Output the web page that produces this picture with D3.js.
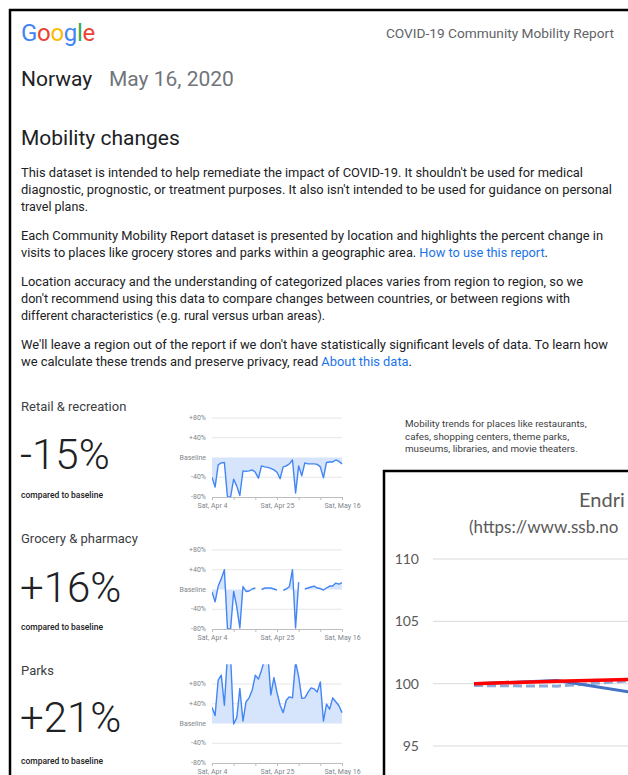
<!DOCTYPE html>
<html>
<head>
<meta charset="utf-8">
<script src="https://cdn.jsdelivr.net/npm/d3@7"></script>
<style>
html, body { margin:0; padding:0; background:#fff; overflow:hidden; }
svg text { font-family: Roboto, "Noto Sans", sans-serif; }
</style>
</head>
<body>
<svg id="page" width="628" height="775"></svg>
<script>
////////////////////////////////////////////////////////////////////////
//
// Data
//
////////////////////////////////////////////////////////////////////////
var startDay = new Date(2020, 3, 4);
var endDay = new Date(2020, 4, 16);
var dateTickLabels = [new Date(2020, 3, 4), new Date(2020, 3, 25), new Date(2020, 4, 16)];

var categories = ["Retail & recreation", "Grocery & pharmacy", "Parks"];
var headlineValues = ["-15%", "+16%", "+21%"];

var retailValues = [-40, -60, -15, -11, -10, -80, -80, -44, -58, -77, -27, -28, -27, -25, -30, -42,
  -17, -19, -20, -22, -25, -30, -43, -19, -17, -13, -5, -72, -17, -37, -11, -13, -13, -13, -14, -19,
  -41, -10, -9, -9, -5, -8, -13];
var groceryValues = [-5, -25, 7, 22, 40, -80, -80, -4, -35, -78, 6, -4, -3, 1, 3, null, 0, 3, 3, 3,
  1, -1, null, -2, 1, 6, 40, -78, 15, null, 1, 3, 5, 7, 3, 2, -1, 3, 7, 7, 13, 11, 14];
var parksValues = [33, 16, 88, 98, 37, 140, 135, -1, 12, 71, 5, 44, 52, 68, 98, 90, 108, 130, 145,
  58, 93, 63, 37, 22, 47, 54, 52, 125, 95, 51, 52, 63, 72, 70, 64, 84, 5, 39, 29, 52, 44, 36, 22];

var yTickValues = [80, 40, 0, -40, -80];
var yTickLabels = ["+80%", "+40%", "Baseline", "-40%", "-80%"];

// ssb chart pasted over the report
var ssbPeriods = ["mars", "april", "mai"];
var ssbRed = [100, 100.2, 100.35];
var ssbBlue = [100, 100.25, 99.2];
var ssbBlueDashed = [99.85, 99.8, 100.3];
var ssbTicks = [95, 100, 105, 110];

var paragraphs = [
  [["This dataset is intended to help remediate the impact of COVID-19. It shouldn't be used for medical"], 583],
  [["diagnostic, prognostic, or treatment purposes. It also isn't intended to be used for guidance on personal"], 612],
  [["travel plans."], 0],
  null,
  [["Each Community Mobility Report dataset is presented by location and highlights the percent change in"], 603],
  [["visits to places like grocery stores and parks within a geographic area. ", "How to use this report", "."], 548],
  null,
  [["Location accuracy and the understanding of categorized places varies from region to region, so we"], 583],
  [["don't recommend using this data to compare changes between countries, or between regions with"], 570],
  [["different characteristics (e.g. rural versus urban areas)."], 0],
  null,
  [["We'll leave a region out of the report if we don't have statistically significant levels of data. To learn how"], 608],
  [["we calculate these trends and preserve privacy, read ", "About this data", "."], 412]
];


////////////////////////////////////////////////////////////////////////
//
// Header, frame and text part of the report
//
////////////////////////////////////////////////////////////////////////
function drawHeader(svg)
  {
  var textColor = "#202124";
  var greyText = "#5f6368";

  //black frame round the screenshot
  svg.append("line").attr("x1", 10).attr("x2", 10).attr("y1", 9).attr("y2", 775)
    .attr("stroke", "#000").attr("stroke-width", 2.5);
  svg.append("line").attr("x1", 9).attr("x2", 628).attr("y1", 10).attr("y2", 10)
    .attr("stroke", "#000").attr("stroke-width", 2.5);

  //google logo
  var logoColors = ["#4285f4", "#ea4335", "#fbbc05", "#4285f4", "#34a853", "#ea4335"];
  var logo = svg.append("text").attr("x", 21).attr("y", 41)
    .style("font-size", "24px").style("letter-spacing", "-0.3px");
  logo.selectAll("tspan").data("Google".split("")).enter().append("tspan")
    .attr("fill", (d, i) => logoColors[i]).text(d => d);

  svg.append("text").attr("x", 614).attr("y", 38).attr("text-anchor", "end")
    .attr("fill", greyText).style("font-size", "13.7px").text("COVID-19 Community Mobility Report");

  svg.append("text").attr("x", 21).attr("y", 86).attr("fill", textColor)
    .style("font-size", "21px").text("Norway");
  svg.append("text").attr("x", 109).attr("y", 86).attr("fill", "#70757a")
    .style("font-size", "21px").text("May 16, 2020");

  svg.append("text").attr("x", 21).attr("y", 145).attr("fill", textColor)
    .style("font-size", "21px").text("Mobility changes");

  //paragraphs, one svg text per line
  var y = 177;
  paragraphs.forEach(line =>
    {
    if(line === null)
      {
      y += 12;
      return;
      }
    var t = svg.append("text").attr("x", 21).attr("y", y).attr("fill", textColor)
      .style("font-size", "12.5px");
    if(line[1] > 0)
      {
      t.attr("textLength", line[1] - 21).attr("lengthAdjust", "spacingAndGlyphs");
      }
    line[0].forEach((part, i) =>
      {
      t.append("tspan").attr("fill", i === 1 ? "#1a73e8" : textColor).text(part);
      });
    y += 17;
    });

  //description beside the first small chart
  var desc = ["Mobility trends for places like restaurants,", "cafes, shopping centers, theme parks,",
              "museums, libraries, and movie theaters."];
  desc.forEach((d, i) =>
    {
    svg.append("text").attr("x", 405).attr("y", 427 + i * 12.5).attr("fill", "#3c4043")
      .style("font-size", "9.8px").text(d);
    });

  return;
  }


////////////////////////////////////////////////////////////////////////
//
// One category: name, big number and the small trend chart
//
////////////////////////////////////////////////////////////////////////
function drawCategory(svg, index, values, bottom)
  {
  var nameY = [411, 543, 675];
  var numberY = [469, 602, 732];
  var compY = [498, 630, 764];

  svg.append("text").attr("x", 21).attr("y", nameY[index]).attr("fill", "#3c4043")
    .style("font-size", "13px").text(categories[index]);
  svg.append("text").attr("x", 20).attr("y", numberY[index]).attr("fill", "#202124")
    .style("font-size", "42px").style("font-weight", 300).text(headlineValues[index]);
  svg.append("text").attr("x", 21).attr("y", compY[index]).attr("fill", "#202124")
    .style("font-size", "8.5px").style("font-weight", 500).text("compared to baseline");

  var x = d3.scaleTime().domain([startDay, endDay]).range([212, 342]);
  var y = d3.scaleLinear().domain([-80, 80]).range([bottom, bottom - 79]);
  var days = d3.timeDay.range(startDay, d3.timeDay.offset(endDay, 1));
  var points = days.map((d, i) => ({date: d, value: values[i]}));

  var g = svg.append("g");

  //grid lines
  g.selectAll(".grid").data([80, 40, -40]).enter().append("line")
    .attr("x1", 212).attr("x2", 342)
    .attr("y1", d => y(d)).attr("y2", d => y(d))
    .attr("stroke", "#e6e6e6").attr("stroke-width", 1.2);

  //y labels
  g.selectAll(".ylab").data(yTickValues).enter().append("text")
    .attr("x", 206).attr("y", d => y(d) + 2.2).attr("text-anchor", "end")
    .attr("fill", "#80868b").style("font-size", "7px")
    .text((d, i) => yTickLabels[i]);

  //clip, parks goes off the top
  var clipId = "clip" + index;
  svg.append("clipPath").attr("id", clipId).append("rect")
    .attr("x", 212).attr("width", 131).attr("y", y(120)).attr("height", y(-80) - y(120));

  var area = d3.area()
    .defined(d => d.value !== null)
    .x(d => x(d.date)).y0(y(0)).y1(d => y(d.value));
  var line = d3.line()
    .defined(d => d.value !== null)
    .x(d => x(d.date)).y(d => y(d.value));

  g.append("path").datum(points).attr("d", area).attr("fill", "#d6e4fc")
    .attr("clip-path", "url(#" + clipId + ")");
  g.append("path").datum(points).attr("d", line).attr("fill", "none")
    .attr("stroke", "#4285f4").attr("stroke-width", 1.4).attr("stroke-linejoin", "round")
    .attr("clip-path", "url(#" + clipId + ")");

  //bottom axis, weekly ticks on saturdays
  var axis = d3.axisBottom(x)
    .tickValues(d3.timeSaturday.range(startDay, d3.timeDay.offset(endDay, 1)))
    .tickSize(3).tickSizeOuter(0)
    .tickFormat(d => dateTickLabels.some(t => +t === +d) ? d3.timeFormat("%a, %b %-d")(d) : "");
  var ax = g.append("g").attr("transform", "translate(0," + bottom + ")").call(axis);
  ax.select(".domain").attr("stroke", "#bdbdbd");
  ax.selectAll(".tick line").attr("stroke", "#bdbdbd");
  ax.selectAll(".tick text").attr("fill", "#80868b").attr("y", 6).attr("dy", "0.71em")
    .style("font-size", "7px").style("font-family", "Roboto, sans-serif");

  return;
  }


////////////////////////////////////////////////////////////////////////
//
// The ssb chart that was pasted over the lower right corner
//
////////////////////////////////////////////////////////////////////////
function drawSsbChart(svg)
  {
  var grey = "#595959";
  var font = "Lato, 'Open Sans', sans-serif";

  svg.append("rect").attr("x", 384).attr("y", 471).attr("width", 300).attr("height", 340)
    .attr("fill", "#fff").attr("stroke", "#000").attr("stroke-width", 2.5);

  //title and source are cut by the edge of the screenshot
  svg.append("text").attr("x", 579).attr("y", 507).attr("fill", grey)
    .style("font-family", font).style("font-size", "20px").text("Endri");
  svg.append("text").attr("x", 469).attr("y", 533).attr("fill", grey)
    .style("font-family", font).style("font-size", "17px").text("(https://www.ssb.no");

  var x = d3.scalePoint().domain(ssbPeriods).range([474, 640]);
  var y = d3.scaleLinear().domain([95, 110]).range([746, 559]);

  svg.selectAll(".ssbgrid").data(ssbTicks).enter().append("line")
    .attr("x1", 433).attr("x2", 640)
    .attr("y1", d => y(d)).attr("y2", d => y(d))
    .attr("stroke", "#d9d9d9").attr("stroke-width", 1);

  svg.selectAll(".ssblab").data(ssbTicks).enter().append("text")
    .attr("x", 419).attr("y", d => y(d) + 5).attr("text-anchor", "end")
    .attr("fill", grey).style("font-family", font).style("font-size", "14px")
    .text(d => d);

  var line = d3.line().x((d, i) => x(ssbPeriods[i])).y(d => y(d));

  svg.append("path").datum(ssbBlueDashed).attr("d", line).attr("fill", "none")
    .attr("stroke", "#8eaadb").attr("stroke-width", 3).attr("stroke-dasharray", "9,4");
  svg.append("path").datum(ssbBlue).attr("d", line).attr("fill", "none")
    .attr("stroke", "#4472c4").attr("stroke-width", 3);
  svg.append("path").datum(ssbRed).attr("d", line).attr("fill", "none")
    .attr("stroke", "#ff0000").attr("stroke-width", 3.5);

  return;
  }


function init()
  {
  var svg = d3.select("#page");

  drawHeader(svg);

  drawCategory(svg, 0, retailValues, 497);
  drawCategory(svg, 1, groceryValues, 629);
  drawCategory(svg, 2, parksValues, 763);

  drawSsbChart(svg);
  }

init();
</script>
</body>
</html>
